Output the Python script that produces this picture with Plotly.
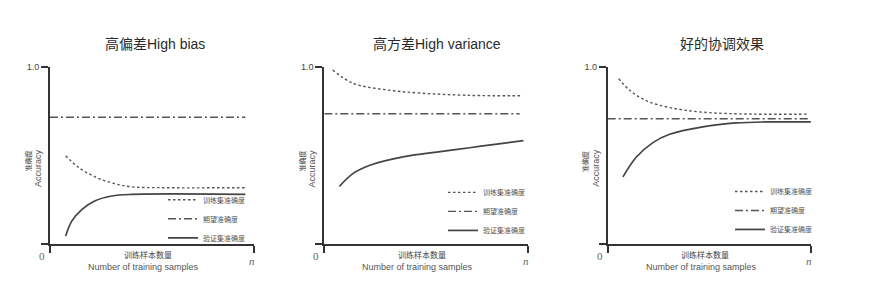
import plotly.graph_objects as go

W, H = 875, 286

# ---------------- data ----------------
titles = ["高偏差High bias", "高方差High variance", "好的协调效果"]
legend_names = ["训练集准确度", "期望准确度", "验证集准确度"]

# Panel 1: high bias
p1_train_x = [0.077, 0.139, 0.222, 0.304, 0.402, 0.55, 0.96]
p1_train_y = [0.498, 0.433, 0.378, 0.344, 0.322, 0.317, 0.317]
p1_val_x = [0.077, 0.107, 0.156, 0.222, 0.304, 0.402, 0.96]
p1_val_y = [0.044, 0.128, 0.193, 0.243, 0.270, 0.279, 0.279]
p1_exp_x = [0.0, 0.96]
p1_exp_y = [0.715, 0.715]

# Panel 2: high variance
p2_train_x = [0.041, 0.142, 0.306, 0.469, 0.714, 0.975]
p2_train_y = [0.982, 0.907, 0.870, 0.852, 0.839, 0.837]
p2_val_x = [0.074, 0.142, 0.224, 0.387, 0.551, 0.714, 0.877, 0.979]
p2_val_y = [0.324, 0.398, 0.444, 0.491, 0.518, 0.543, 0.568, 0.583]
p2_exp_x = [0.0, 0.96]
p2_exp_y = [0.735, 0.735]

# Panel 3: good fit
p3_train_x = [0.054, 0.108, 0.189, 0.304, 0.467, 0.712, 0.99]
p3_train_y = [0.933, 0.868, 0.809, 0.770, 0.744, 0.733, 0.733]
p3_val_x = [0.075, 0.140, 0.222, 0.304, 0.467, 0.630, 0.794, 0.998]
p3_val_y = [0.378, 0.489, 0.572, 0.619, 0.661, 0.683, 0.689, 0.689]
p3_exp_x = [0.0, 0.985]
p3_exp_y = [0.707, 0.707]

panels = [
    (p1_train_x, p1_train_y, p1_exp_x, p1_exp_y, p1_val_x, p1_val_y),
    (p2_train_x, p2_train_y, p2_exp_x, p2_exp_y, p2_val_x, p2_val_y),
    (p3_train_x, p3_train_y, p3_exp_x, p3_exp_y, p3_val_x, p3_val_y),
]

y_tick_vals = [0, 1]
y_tick_text = ["", "1.0"]
x_tick_vals = [0, 1]

# ---------------- layout helpers ----------------
def px(x):
    return x / W

def py(y):
    return 1 - y / H

axis_left = [50, 324.3, 607.7]
axis_w = 203.5
y_top, y_bot = 63, 243
legend_box = [(163, 183.5), (443, 176), (730, 175)]   # (left, top) in px
title_x = [155, 436.7, 721.7]

SANS = "Liberation Sans, Noto Sans CJK SC, sans-serif"
CJK = "Noto Sans CJK SC, Liberation Sans, sans-serif"
SERIF = "Liberation Serif, DejaVu Serif, serif"
AX = "#333333"
LC = "#555555"

styles = [
    dict(color=LC, width=1.4, dash="2.5px,2.5px"),
    dict(color=LC, width=1.4, dash="8px,3px,2px,3px"),
    dict(color="#444444", width=1.7),
]

fig = go.Figure()
layout = dict(
    width=W, height=H,
    margin=dict(l=0, r=0, t=0, b=0),
    paper_bgcolor="white", plot_bgcolor="white",
    font=dict(family=SANS, color="#444444"),
    annotations=[],
)

for i, pdata in enumerate(panels):
    xa = "x" if i == 0 else f"x{i+1}"
    ya = "y" if i == 0 else f"y{i+1}"
    lg = "legend" if i == 0 else f"legend{i+1}"
    for k in range(3):
        fig.add_trace(go.Scatter(
            x=pdata[2 * k], y=pdata[2 * k + 1],
            mode="lines", line=dict(shape="spline", smoothing=1.0, **styles[k]),
            name=legend_names[k], xaxis=xa, yaxis=ya, legend=lg,
            showlegend=True, hoverinfo="skip",
        ))
    x0 = axis_left[i]
    xkey = "xaxis" if i == 0 else f"xaxis{i+1}"
    ykey = "yaxis" if i == 0 else f"yaxis{i+1}"
    layout[xkey] = dict(
        domain=[px(x0), px(x0 + axis_w)], range=[0, 1], anchor=ya,
        showgrid=False, zeroline=False, showline=True, linecolor=AX, linewidth=2,
        ticks="outside", ticklen=7, tickwidth=2, tickcolor=AX,
        tickvals=x_tick_vals, showticklabels=False, fixedrange=True,
    )
    layout[ykey] = dict(
        domain=[py(y_bot), py(y_top)], range=[0, 1], anchor=xa,
        showgrid=False, zeroline=False, showline=True, linecolor=AX, linewidth=2,
        ticks="outside", ticklen=7, tickwidth=2, tickcolor=AX,
        tickvals=y_tick_vals, ticktext=y_tick_text,
        tickfont=dict(family=SANS, size=9, color="#444444"), fixedrange=True,
    )
    lx, ly = legend_box[i]
    layout[lg] = dict(
        x=px(lx), y=py(ly), xanchor="left", yanchor="top",
        bgcolor="rgba(0,0,0,0)", borderwidth=0, itemwidth=30,
        font=dict(family=CJK, size=7, color="#555555"),
        traceorder="normal", tracegroupgap=0,
    )
    ann = layout["annotations"]
    # title
    ann.append(dict(text=titles[i], x=px(title_x[i]), y=py(40), xref="paper", yref="paper",
                    showarrow=False, xanchor="center", yanchor="middle",
                    font=dict(family=SANS, size=14, color="#2a2a2a")))
    # y-axis title
    ann.append(dict(text="准确度", x=px(x0 - 22), y=py(159), xref="paper", yref="paper",
                    showarrow=False, textangle=-90, xanchor="center", yanchor="middle",
                    font=dict(family=CJK, size=7, color="#444444")))
    ann.append(dict(text="Accuracy", x=px(x0 - 12), y=py(166), xref="paper", yref="paper",
                    showarrow=False, textangle=-90, xanchor="center", yanchor="middle",
                    font=dict(family=SANS, size=9, color="#555555")))
    # x-axis title
    xc = x0 + axis_w * 0.47
    ann.append(dict(text="训练样本数量", x=px(xc + 2), y=py(254), xref="paper", yref="paper",
                    showarrow=False, xanchor="center", yanchor="middle",
                    font=dict(family=CJK, size=8, color="#444444")))
    ann.append(dict(text="Number of training samples", x=px(xc - 2), y=py(266.5), xref="paper", yref="paper",
                    showarrow=False, xanchor="center", yanchor="middle",
                    font=dict(family=SANS, size=9, color="#555555")))
    # origin and n labels
    ann.append(dict(text="0", x=px(x0 - 8), y=py(255), xref="paper", yref="paper",
                    showarrow=False, xanchor="center", yanchor="middle",
                    font=dict(family=SERIF, size=11, color="#666666")))
    ann.append(dict(text="<i>n</i>", x=px(x0 + axis_w - 2), y=py(261), xref="paper", yref="paper",
                    showarrow=False, xanchor="center", yanchor="middle",
                    font=dict(family=SERIF, size=11, color="#666666")))

fig.update_layout(**layout)
fig.write_html("out.html")
